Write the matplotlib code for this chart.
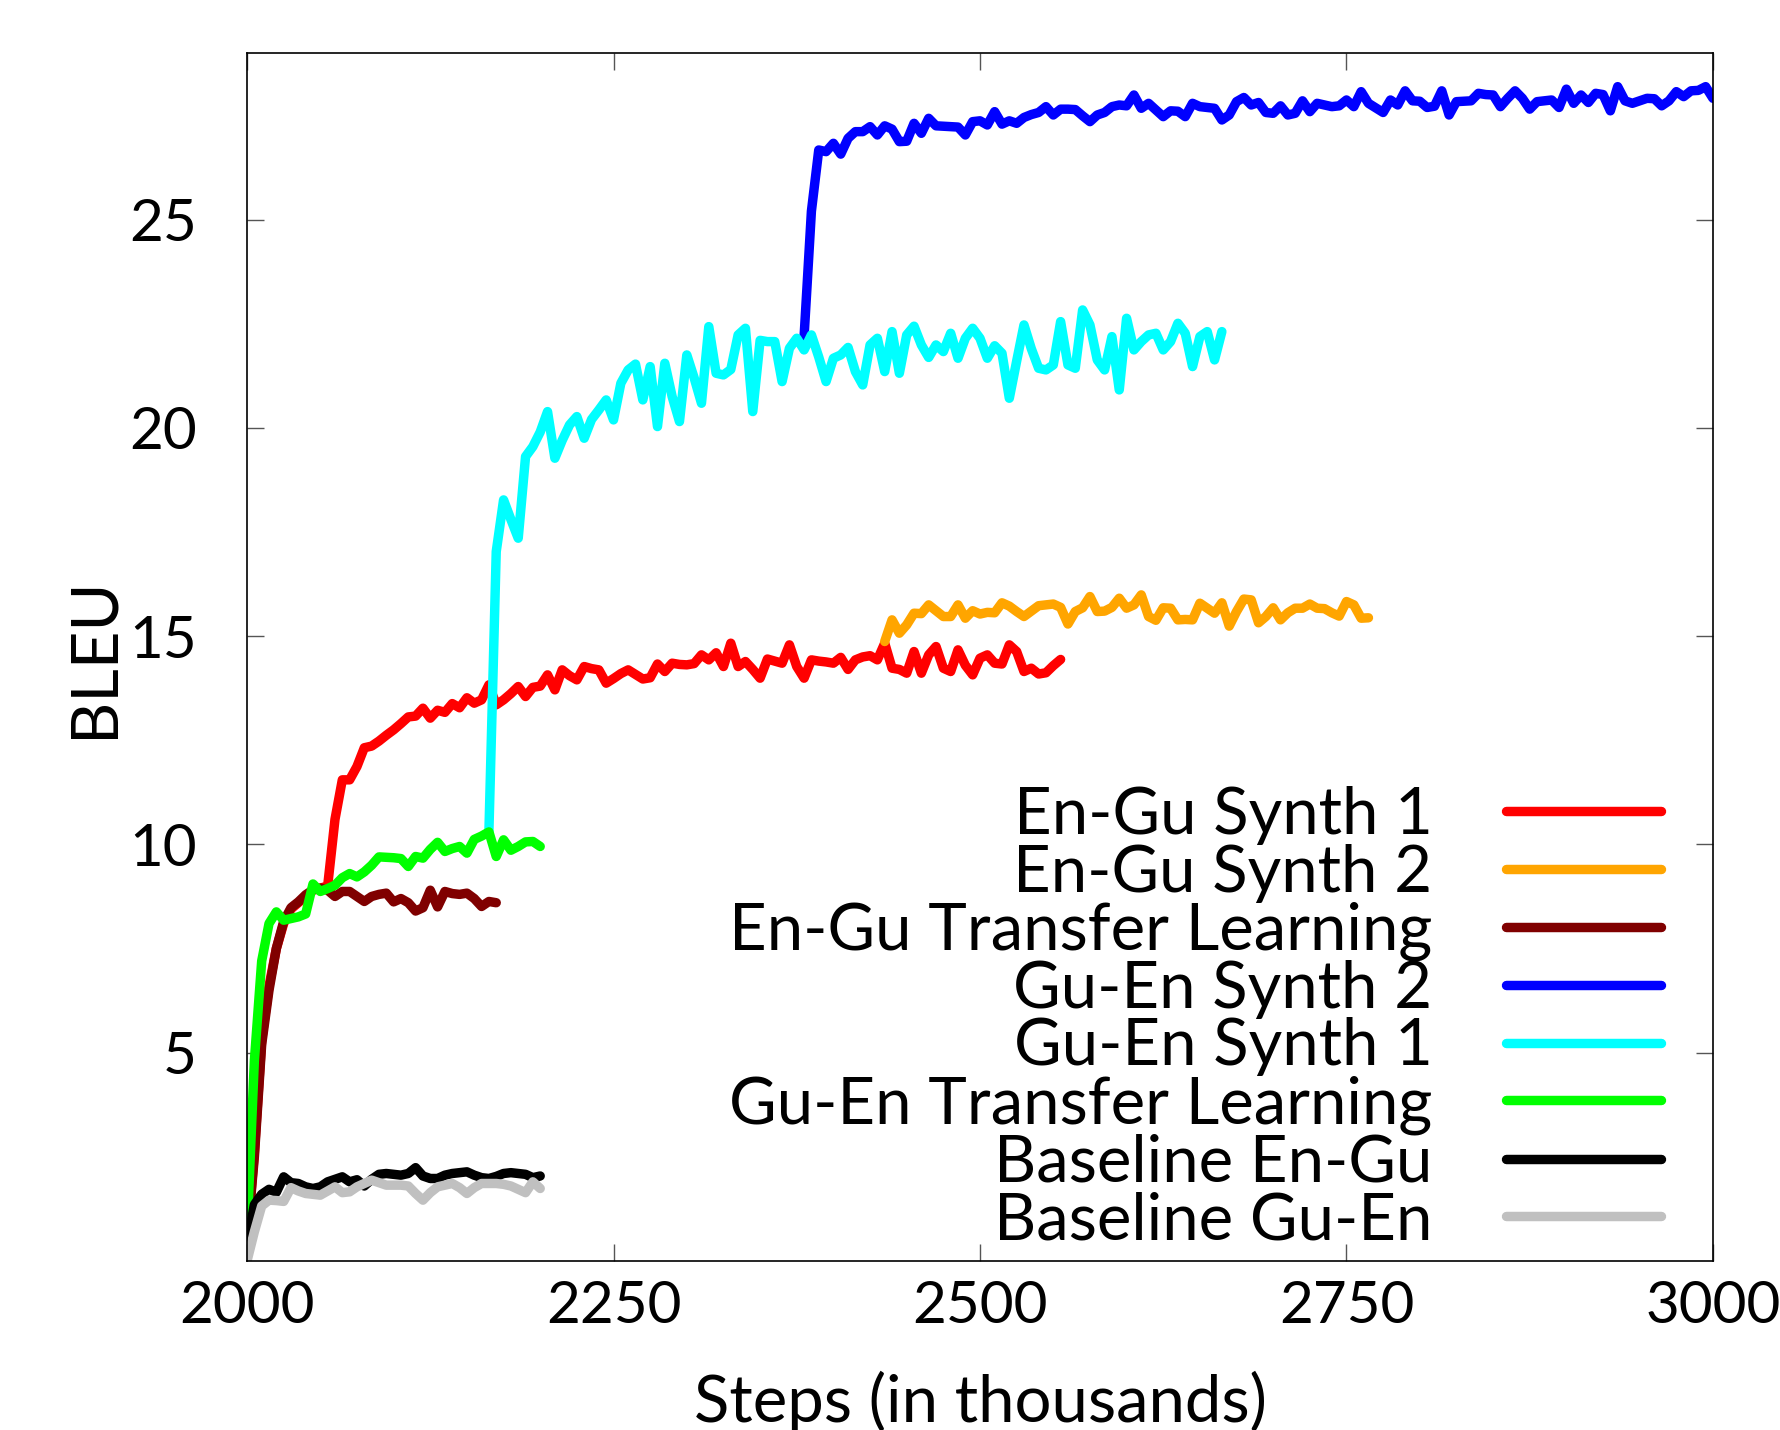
import matplotlib
matplotlib.use("Agg")
from matplotlib import pyplot as plt
import numpy as np

# BLEU vs training steps (thousands), checkpoints every 5k steps
STEP = 5

en_gu_synth1_start = 2000
en_gu_synth1 = [
    0.5, 2.6, 5.3, 6.6, 7.5, 8.1, 8.45, 8.6, 8.75, 8.9, 8.95, 9.0, 10.6, 11.55, 11.55, 11.87,
    12.32, 12.36, 12.48, 12.62, 12.75, 12.9, 13.06, 13.08, 13.27, 13.03, 13.22, 13.17, 13.38,
    13.28, 13.52, 13.39, 13.47, 13.83, 13.35, 13.47, 13.62, 13.79, 13.55, 13.77, 13.8, 14.07,
    13.71, 14.19, 14.05, 13.95, 14.27, 14.22, 14.19, 13.87, 13.98, 14.1, 14.19, 14.08, 13.97,
    14.0, 14.33, 14.15, 14.35, 14.32, 14.31, 14.34, 14.55, 14.43, 14.6, 14.27, 14.83, 14.27,
    14.39, 14.2, 13.99, 14.45, 14.4, 14.35, 14.79, 14.27, 13.99, 14.43, 14.4, 14.38, 14.35,
    14.49, 14.2, 14.43, 14.5, 14.53, 14.43, 14.83, 14.23, 14.2, 14.11, 14.63, 14.11, 14.55,
    14.75, 14.23, 14.15, 14.67, 14.3, 14.07, 14.47, 14.55, 14.35, 14.33, 14.79, 14.63, 14.15,
    14.23, 14.09, 14.12, 14.29, 14.44,
]

en_gu_synth2_start = 2435
en_gu_synth2 = [
    14.87, 15.39, 15.07, 15.27, 15.55, 15.54, 15.75, 15.61, 15.47, 15.47, 15.75, 15.43, 15.61,
    15.53, 15.57, 15.56, 15.8, 15.72, 15.59, 15.47, 15.6, 15.73, 15.75, 15.77, 15.69, 15.29,
    15.59, 15.68, 15.95, 15.59, 15.6, 15.69, 15.91, 15.67, 15.75, 15.99, 15.47, 15.38, 15.68,
    15.67, 15.39, 15.4, 15.39, 15.79, 15.67, 15.55, 15.8, 15.24, 15.59, 15.89, 15.87, 15.32,
    15.47, 15.68, 15.39, 15.56, 15.67, 15.67, 15.77, 15.67, 15.66, 15.56, 15.48, 15.83, 15.75,
    15.43, 15.44,
]

en_gu_transfer_start = 2000
en_gu_transfer = [
    0.5, 2.5, 5.2, 6.5, 7.5, 8.15, 8.48, 8.62, 8.79, 8.91, 8.95, 8.9, 8.75, 8.87, 8.87, 8.75,
    8.63, 8.75, 8.8, 8.83, 8.62, 8.7, 8.6, 8.4, 8.48, 8.9, 8.5, 8.87, 8.82, 8.8, 8.83, 8.7,
    8.51, 8.63, 8.6,
]

gu_en_synth2_start = 2380
gu_en_synth2 = [
    22.19, 25.2, 26.67, 26.63, 26.83, 26.57, 26.95, 27.11, 27.11, 27.23, 27.03, 27.25, 27.17,
    26.87, 26.88, 27.31, 27.07, 27.43, 27.25, 27.24, 27.23, 27.22, 27.03, 27.35, 27.37, 27.27,
    27.59, 27.29, 27.37, 27.31, 27.45, 27.52, 27.57, 27.71, 27.51, 27.65, 27.65, 27.64, 27.49,
    27.35, 27.51, 27.57, 27.71, 27.75, 27.73, 27.99, 27.67, 27.79, 27.63, 27.47, 27.61, 27.6,
    27.47, 27.79, 27.71, 27.69, 27.67, 27.39, 27.51, 27.83, 27.93, 27.75, 27.81, 27.57, 27.55,
    27.73, 27.51, 27.55, 27.85, 27.59, 27.79, 27.75, 27.71, 27.73, 27.87, 27.71, 28.07, 27.79,
    27.68, 27.57, 27.87, 27.75, 28.09, 27.85, 27.84, 27.69, 27.72, 28.09, 27.51, 27.83, 27.84,
    27.85, 28.03, 28.0, 27.99, 27.71, 27.91, 28.09, 27.91, 27.65, 27.83, 27.85, 27.87, 27.69,
    28.13, 27.79, 27.99, 27.81, 28.03, 28.0, 27.61, 28.19, 27.85, 27.79, 27.85, 27.91, 27.9,
    27.73, 27.85, 28.07, 27.95, 28.09, 28.1, 28.19, 27.91,
]

gu_en_synth1_start = 2165
gu_en_synth1 = [
    10.3, 17.03, 18.27, 17.8, 17.35, 19.31, 19.55, 19.9, 20.39, 19.27, 19.7, 20.07, 20.27,
    19.75, 20.2, 20.43, 20.67, 20.19, 21.07, 21.39, 21.53, 20.67, 21.47, 20.03, 21.55, 20.75,
    20.15, 21.75, 21.2, 20.59, 22.43, 21.31, 21.27, 21.4, 22.23, 22.39, 20.39, 22.1, 22.07,
    22.07, 21.11, 21.91, 22.15, 21.87, 22.23, 21.7, 21.11, 21.67, 21.75, 21.93, 21.35, 21.03,
    21.99, 22.15, 21.35, 22.31, 21.31, 22.23, 22.44, 21.99, 21.69, 21.99, 21.83, 22.27, 21.67,
    22.15, 22.39, 22.15, 21.67, 21.97, 21.79, 20.71, 21.6, 22.47, 21.9, 21.43, 21.39, 21.51,
    22.55, 21.51, 21.43, 22.83, 22.47, 21.63, 21.39, 22.19, 20.91, 22.63, 21.87, 22.07, 22.23,
    22.27, 21.87, 22.07, 22.51, 22.27, 21.47, 22.19, 22.31, 21.63, 22.31,
]

gu_en_transfer_start = 2000
gu_en_transfer = [
    0.7, 4.8, 7.2, 8.1, 8.38, 8.18, 8.22, 8.26, 8.33, 9.05, 8.87, 8.94, 9.02, 9.2, 9.3, 9.22,
    9.34, 9.5, 9.7, 9.69, 9.68, 9.66, 9.47, 9.71, 9.67, 9.88, 10.05, 9.83, 9.9, 9.95, 9.79,
    10.12, 10.2, 10.3, 9.71, 10.11, 9.86, 9.95, 10.06, 10.07, 9.95,
]

baseline_en_gu_start = 2000
baseline_en_gu = [
    0.4, 1.35, 1.6, 1.72, 1.65, 2.02, 1.88, 1.86, 1.78, 1.74, 1.78, 1.9, 1.96, 2.02, 1.9,
    1.95, 1.8, 1.96, 2.08, 2.1, 2.08, 2.06, 2.1, 2.24, 2.04, 1.98, 1.98, 2.06, 2.1, 2.12, 2.14,
    2.06, 2.0, 1.98, 2.03, 2.1, 2.12, 2.1, 2.08, 2.0, 2.04,
]

baseline_gu_en_start = 2000
baseline_gu_en = [
    0.0, 0.7, 1.32, 1.46, 1.45, 1.43, 1.76, 1.68, 1.62, 1.6, 1.58, 1.68, 1.78, 1.64, 1.66,
    1.78, 1.86, 1.94, 1.88, 1.82, 1.82, 1.82, 1.8, 1.62, 1.46, 1.64, 1.78, 1.82, 1.86, 1.76,
    1.62, 1.76, 1.86, 1.86, 1.86, 1.84, 1.8, 1.72, 1.64, 1.9, 1.74,
]

series = [
    ("En-Gu Synth 1", en_gu_synth1_start, en_gu_synth1, "#ff0000"),
    ("En-Gu Synth 2", en_gu_synth2_start, en_gu_synth2, "#ffa500"),
    ("En-Gu Transfer Learning", en_gu_transfer_start, en_gu_transfer, "#800000"),
    ("Gu-En Synth 2", gu_en_synth2_start, gu_en_synth2, "#0000ff"),
    ("Gu-En Synth 1", gu_en_synth1_start, gu_en_synth1, "#00ffff"),
    ("Gu-En Transfer Learning", gu_en_transfer_start, gu_en_transfer, "#00ff00"),
    ("Baseline En-Gu", baseline_en_gu_start, baseline_en_gu, "#000000"),
    ("Baseline Gu-En", baseline_gu_en_start, baseline_gu_en, "#c0c0c0"),
]

x_ticks = [2000, 2250, 2500, 2750, 3000]
y_ticks = [5, 10, 15, 20, 25]

plt.rcParams['font.family'] = ['Lato', 'DejaVu Sans']
TICK_FS = 42
TEXT_FS = 47

fig = plt.figure(figsize=(17.81, 14.30), dpi=100)
ax = fig.add_axes([0.1387, 0.1182, 0.8231, 0.8448])

for label, start, vals, color in series:
    x = start + STEP * np.arange(len(vals))
    ax.plot(x, vals, color=color, linewidth=6.8, label=label,
            solid_capstyle='round', solid_joinstyle='round')

ax.set_xlim(2000, 3000)
ax.set_ylim(0, 29)
ax.set_xticks(x_ticks)
ax.set_yticks(y_ticks)
ax.tick_params(direction='in', length=12, width=1, color='#555555',
               top=True, right=True, labelsize=TICK_FS)
ax.tick_params(axis='x', pad=14)
ax.tick_params(axis='y', pad=36)
for sp in ax.spines.values():
    sp.set_linewidth(1.2)

ax.set_xlabel("Steps (in thousands)", fontsize=TEXT_FS)
ax.set_ylabel("BLEU", fontsize=TEXT_FS)
ax.xaxis.set_label_coords(0.5, -0.091)
ax.yaxis.set_label_coords(-0.0845, 0.5)

# gnuplot-style key: right-aligned labels, sample line on the right
leg = ax.legend(loc='upper right', bbox_to_anchor=(0.9645, 0.393), markerfirst=False,
                frameon=False, fontsize=TEXT_FS, handlelength=2.37, handletextpad=1.13,
                labelspacing=-0.02, borderpad=0, borderaxespad=0)

fig.savefig("out.png", dpi=100)
